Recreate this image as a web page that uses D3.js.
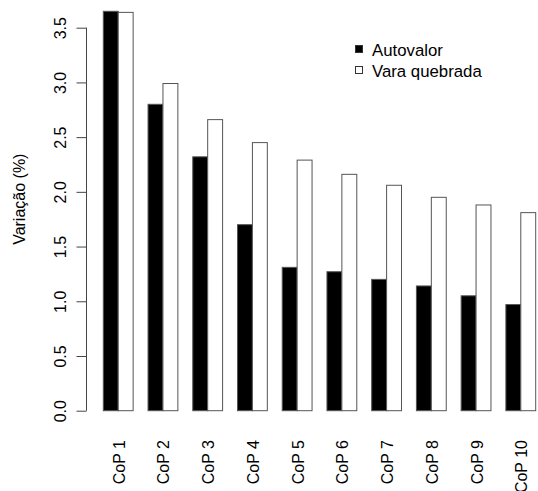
<!DOCTYPE html>
<html>
<head>
<meta charset="utf-8">
<script src="https://cdn.jsdelivr.net/npm/d3@7"></script>
<style>
  html, body { margin: 0; padding: 0; background: #fff; }
  svg { display: block; font-family: "Liberation Sans", Arial, Helvetica, sans-serif; }
</style>
</head>
<body>
<svg id="chart" width="538" height="491"></svg>
<script>
// Componentes (CoP) e variação explicada (%)
const categories = ["CoP 1", "CoP 2", "CoP 3", "CoP 4", "CoP 5", "CoP 6", "CoP 7", "CoP 8", "CoP 9", "CoP 10"];
const autovalor = [3.65, 2.80, 2.32, 1.70, 1.31, 1.27, 1.20, 1.14, 1.05, 0.97];
const varaQuebrada = [3.64, 2.99, 2.66, 2.45, 2.29, 2.16, 2.06, 1.95, 1.88, 1.81];
const seriesNames = ["Autovalor", "Vara quebrada"];
const seriesFill = ["#000000", "#ffffff"];
const yTicks = [0, 0.5, 1.0, 1.5, 2.0, 2.5, 3.0, 3.5];

const svg = d3.select("#chart");
const fontSize = 16;
const unit = 14.91;
const x0 = 88.4;

// Groups: two bars each, one bar-width of space between groups
const x = d3.scaleBand()
  .domain(categories)
  .range([x0, x0 + 31 * unit])
  .paddingInner(1 / 3)
  .paddingOuter(1 / 3);

const xs = d3.scaleBand()
  .domain(seriesNames)
  .range([0, x.bandwidth()]);

const y = d3.scaleLinear()
  .domain([0, 3.5])
  .range([410.7, 27.7]);

const rows = categories.map((c, i) => ({
  cat: c,
  vals: [
    { s: seriesNames[0], v: autovalor[i], f: seriesFill[0] },
    { s: seriesNames[1], v: varaQuebrada[i], f: seriesFill[1] }
  ]
}));

// Bars
const g = svg.append("g")
  .selectAll("g")
  .data(rows)
  .join("g")
  .attr("transform", d => `translate(${x(d.cat)},0)`);

g.selectAll("rect")
  .data(d => d.vals)
  .join("rect")
  .attr("x", d => xs(d.s))
  .attr("y", d => y(d.v))
  .attr("width", xs.bandwidth())
  .attr("height", d => y(0) - y(d.v))
  .attr("fill", d => d.f)
  .attr("stroke", "#555")
  .attr("stroke-width", 1);

// Y axis (labels parallel to the axis)
const yAxis = d3.axisLeft(y)
  .tickValues(yTicks)
  .tickFormat(d3.format(".1f"))
  .tickSize(10)
  .tickPadding(0);

const ya = svg.append("g")
  .attr("transform", "translate(86.5,0)")
  .call(yAxis);
ya.select(".domain").attr("stroke", "#444").attr("d", `M0,${y(0)}V${y(3.5)}`);
ya.selectAll(".tick line").attr("stroke", "#444");
ya.selectAll(".tick text")
  .attr("x", null)
  .attr("dy", null)
  .attr("transform", "translate(-26,0) rotate(-90)")
  .attr("text-anchor", "middle")
  .attr("dominant-baseline", "central")
  .attr("fill", "#000")
  .style("font-size", fontSize + "px")
  .style("font-family", "'Liberation Sans', Arial, sans-serif");

// Y axis title
svg.append("text")
  .attr("transform", `translate(19,${(y(0) + y(3.5)) / 2 - 20}) rotate(-90)`)
  .attr("text-anchor", "middle")
  .attr("dominant-baseline", "central")
  .style("font-size", fontSize + "px")
  .text("Variação (%)");

// Category labels, perpendicular to the axis
svg.append("g")
  .selectAll("text")
  .data(categories)
  .join("text")
  .attr("transform", d => `translate(${x(d) + x.bandwidth() / 2 + 1},440) rotate(-90)`)
  .attr("text-anchor", "end")
  .attr("dominant-baseline", "central")
  .style("font-size", fontSize + "px")
  .text(d => d);

// Legend
const legend = svg.append("g").attr("transform", "translate(355,49)");
const li = legend.selectAll("g")
  .data(seriesNames)
  .join("g")
  .attr("transform", (d, i) => `translate(0,${i * 21})`);
li.append("rect")
  .attr("x", 0.5).attr("y", -3.5)
  .attr("width", 7).attr("height", 7)
  .attr("fill", (d, i) => seriesFill[i])
  .attr("stroke", "#333");
li.append("text")
  .attr("x", 17)
  .attr("y", 1)
  .attr("dominant-baseline", "central")
  .style("font-size", "16.8px")
  .text(d => d);
</script>
</body>
</html>
